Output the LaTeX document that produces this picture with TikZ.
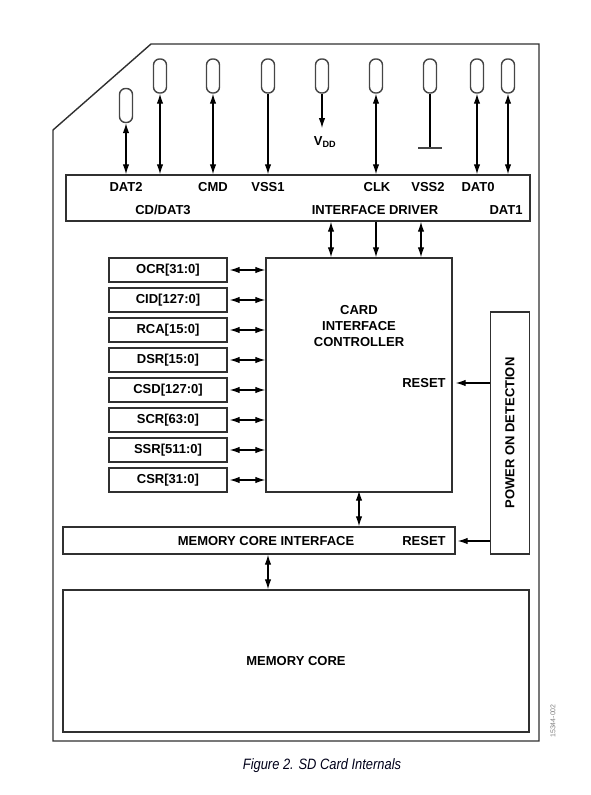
\documentclass[tikz,border=0pt]{standalone}
\usepackage{fontspec}
\usepackage{xcolor}
\setmainfont{Liberation Sans}
\usetikzlibrary{arrows.meta}
\newcommand{\sdfont}{\fontsize{13}{15.5}\selectfont\bfseries}

\begin{document}
\begin{tikzpicture}[x=1pt,y=-1pt,
  box/.style={draw=boxgray,line width=1.4pt,inner sep=0pt},
  regbox/.style={box,minimum width=118,minimum height=24,font=\sdfont},
  pinbox/.style={draw=pingray,line width=1.4pt,rounded corners=6pt,minimum width=13,minimum height=34,inner sep=0pt},
  lbl/.style={font=\sdfont,inner sep=0pt},
  sig/.style={line width=1.2pt,>={Latex[length=10pt,width=6.5pt]}}]
\definecolor{boxgray}{HTML}{303030}
\definecolor{pingray}{HTML}{454545}
\useasboundingbox (0,0) rectangle (590,795);
\draw[boxgray,line width=1.4pt] (151,44) -- (539,44) -- (539,741) -- (53,741) -- (53,130) -- cycle;
\node[box,minimum width=464,minimum height=46] (drv) at (298,198) {};
\node[box,minimum width=186,minimum height=234] (cic) at (359,375) {};
\node[box,minimum width=39,minimum height=242] (pod) at (510,433) {};
\node[box,minimum width=392,minimum height=27] (mci) at (259,540.5) {};
\node[box,minimum width=466,minimum height=142] (mem) at (296,661) {};
  \foreach \nm/\xx/\yy in {dat2/126/105.5,cdat3/160/76,cmd/213/76,vss1/268/76,vdd/322/76,clk/376/76,vss2/430/76,dat0/477/76,dat1/508/76}
  {  \node[pinbox] (p\nm) at (\xx,\yy) {};}
  \foreach \nm in {dat2,cdat3,cmd,clk,dat0,dat1}
  {  \draw[sig,<->] (p\nm.south) -- (p\nm.south |- drv.north);}
\draw[sig,->] (pvss1.south) -- (pvss1.south |- drv.north);
\coordinate (vddend) at (322,128);
\draw[sig,->] (pvdd.south) -- (vddend);
\node[lbl] (vddlbl) at (325,142) {V\textsubscript{DD}};
\coordinate (gnd) at (430,148);
\draw[sig] (pvss2.south) -- (gnd);
\draw[pingray,line width=1.4pt] ([xshift=-12pt]gnd) -- ([xshift=12pt]gnd);
  \foreach \txt/\xx/\yy in {DAT2/126/187,CMD/213/187,VSS1/268/187,CLK/377/187,VSS2/428/187,DAT0/478/187,{CD/DAT3}/163/210,INTERFACE DRIVER/375/210,DAT1/506/210}
  {  \node[lbl] at (\xx,\yy) {\txt};}
  \foreach \xx/\tip in {331/<->,376/->,421/<->}
  {  \draw[sig,\tip] (drv.south -| \xx,0) -- (cic.north -| \xx,0);}
\node[lbl,align=center] (cictxt) at (359,326) {CARD\\[0.5pt]INTERFACE\\[0.5pt]CONTROLLER};
\node[lbl] (cicrst) at (424,383) {RESET};
  \foreach \nm/\txt [count=\i from 0] in {ocr/{OCR[31:0]},cid/{CID[127:0]},rca/{RCA[15:0]},dsr/{DSR[15:0]},csd/{CSD[127:0]},scr/{SCR[63:0]},ssr/{SSR[511:0]},csr/{CSR[31:0]}}
  {  \node[regbox] (\nm) at (168,270+30*\i) {\txt};
     \draw[sig,<->] ([xshift=2pt]\nm.east) -- (\nm.east -| cic.west);}
\node[lbl,rotate=90] (podtxt) at (pod.center) {POWER ON DETECTION};
\draw[sig,->] (pod.west |- cicrst) -- ([xshift=3pt]cic.east |- cicrst);
\node[lbl] (mcitxt) at (266,541) {MEMORY CORE INTERFACE};
\node[lbl] (mcirst) at (424,541) {RESET};
\draw[sig,->] (pod.west |- mcirst) -- ([xshift=2pt]mci.east |- mcirst);
\draw[sig,<->] ([yshift=2pt]cic.south) -- (cic.south |- mci.north);
\draw[sig,<->] (mci.south -| 268,0) -- (mem.north -| 268,0);
\node[lbl] (memtxt) at (mem.center) {MEMORY CORE};
\node[font=\fontsize{7}{8}\selectfont,text=gray,rotate=90,inner sep=0pt] (figid) at (553,721) {15344-002};
\node[font=\fontsize{15}{17}\selectfont\itshape,xscale=0.86,inner sep=0pt,text=black!90!blue] (caption) at (322,766) {Figure 2. SD Card Internals};
\end{tikzpicture}
\end{document}
